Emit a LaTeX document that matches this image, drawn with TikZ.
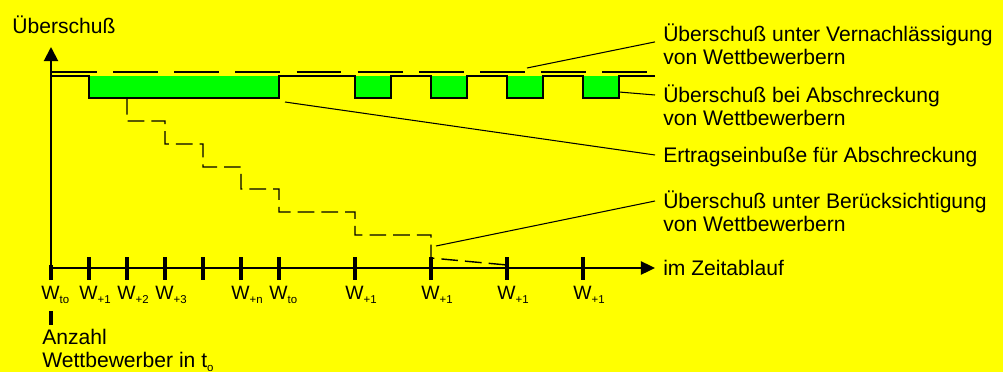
\documentclass[tikz,border=0pt]{standalone}
\usepackage{fontspec}
\setmainfont{Liberation Sans}
\usetikzlibrary{arrows.meta}
\definecolor{canary}{RGB}{255,255,0}
\definecolor{signalgreen}{RGB}{0,255,0}
\newcommand{\lowidx}[1]{\raisebox{-2.8pt}{\fontsize{6.5}{7}\selectfont #1}}

\begin{document}
\begin{tikzpicture}[x=0.02cm, y=-0.02cm,
    axis/.style={line width=1.1pt},
    tickmark/.style={line width=1.8pt},
    leader/.style={line width=0.6pt},
    lbl/.style={anchor=west, inner xsep=4.5pt, inner ysep=0pt, text height=8.6pt, text depth=0pt,
                font=\fontsize{12}{13.3}\selectfont},
    wlbl/.style={anchor=base west, inner sep=0pt, font=\fontsize{11}{13}\selectfont}]
            % Background
            \useasboundingbox (0,0) rectangle (1003,372);
            \fill[canary] (0,0) rectangle (1003,372);
            % Axes
            \coordinate (O)    at (51,268);
            \coordinate (yEnd) at (51,47);
            \coordinate (xEnd) at (655,268);
            \draw[axis, -{Triangle[length=8pt, width=8pt]}] (O) -- (yEnd);
            \draw[axis, -{Triangle[length=8pt, width=7.5pt]}] (O) -- (xEnd);
            \node[anchor=base west, inner sep=0pt, font=\fontsize{12}{13.3}\selectfont] (yLabel) at (12,33) {Überschuß};
            \node[lbl] (xLabel) at (xEnd) {im Zeitablauf};
            % Ticks & labels
            \draw[tickmark] (51,265) -- (51,280);
            \foreach \x in {89,127,165,203,241,279,355,431,507,583}
                \draw[tickmark] (\x,257) -- (\x,280);
            \foreach \x/\s/\n in {51/to/w0, 89/+1/w1, 127/+2/w2, 165/+3/w3, 241/+n/wn,
                                  279/to/w0b, 355/+1/w5, 431/+1/w6, 507/+1/w7, 583/+1/w8}
                \node[wlbl] (\n) at (\x-10,299) {W\lowidx{\s}};
            \node[anchor=base west, inner sep=0pt, font=\fontsize{12}{13.3}\selectfont] (anzahl) at (42,344) {Anzahl};
            \node[anchor=base west, inner sep=0pt, font=\fontsize{12}{13.3}\selectfont] (anzahlB) at (42,367) {Wettbewerber in t\lowidx{o}};
            \draw[tickmark, shorten <=4pt, shorten >=1.7pt] (O |- w0.south) -- (O |- anzahl.north);
            % Surplus neglecting competitors
            \draw[line width=0.8pt, dash pattern=on 25.5pt off 9.3pt] (52,72) -- (652,72);
            % Surplus with deterrence
            \fill[signalgreen] (89,76) rectangle (279,98);
            \foreach \x in {355,431,507,583}
                \fill[signalgreen] (\x,76) rectangle (\x+36,98);
            \draw[line width=1.2pt] (52,76) -- (89,76) -- (89,98) -- (279,98) -- (279,76)
                -- (355,76) -- (355,98) -- (391,98) -- (391,76)
                -- (431,76) -- (431,98) -- (467,98) -- (467,76)
                -- (507,76) -- (507,98) -- (543,98) -- (543,76)
                -- (583,76) -- (583,98) -- (619,98) -- (619,76) -- (655,76);
            % Surplus considering competitors
            \draw[line width=0.8pt, dash pattern=on 9.5pt off 4pt]
                (127,98) -- (127,121) -- (165,121) -- (165,144) -- (203,144) -- (203,167)
                -- (241,167) -- (241,189) -- (279,189) -- (279,212) -- (355,212) -- (355,235)
                -- (431,235) -- (431,258) -- (507,265);
            % Labels on the right
            \node[lbl] (lblV) at (655,34) {Überschuß unter Vernachlässigung};
            \node[lbl, anchor=base west] (lblV2) at ([yshift=-13.3pt]lblV.base west) {von Wettbewerbern};
            \node[lbl] (lblA) at (655,95) {Überschuß bei Abschreckung};
            \node[lbl, anchor=base west] (lblA2) at ([yshift=-13.3pt]lblA.base west) {von Wettbewerbern};
            \node[lbl] (lblE) at (655,155) {Ertragseinbuße für Abschreckung};
            \node[lbl] (lblB) at (655,201) {Überschuß unter Berücksichtigung};
            \node[lbl, anchor=base west] (lblB2) at ([yshift=-13.3pt]lblB.base west) {von Wettbewerbern};
            % Leader lines
            \coordinate (pNeglect)  at (527,68);
            \coordinate (pDeter)    at (619,92);
            \coordinate (pLoss)     at (285,102);
            \coordinate (pConsider) at (436,246);
            \draw[leader] (pNeglect)  -- (lblV.south west);
            \draw[leader] (pDeter)    -- (lblA.west);
            \draw[leader] (pLoss)     -- (lblE.west);
            \draw[leader] (pConsider) -- (lblB.west);
\end{tikzpicture}
\end{document}
